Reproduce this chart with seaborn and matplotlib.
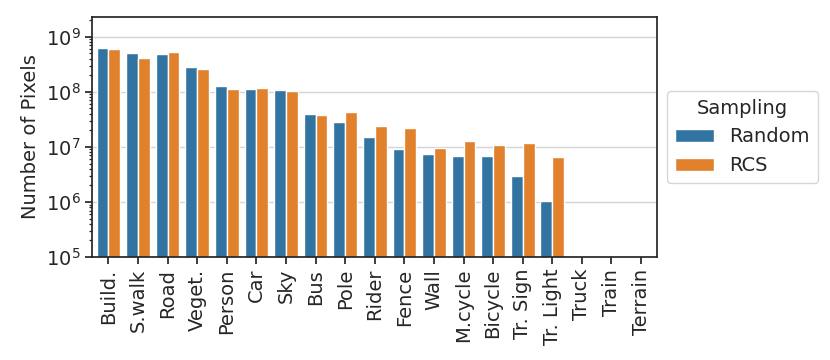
import pandas as pd
import matplotlib
matplotlib.use("Agg")
import matplotlib.pyplot as plt
import seaborn as sns

classes = ["Build.", "S.walk", "Road", "Veget.", "Person", "Car", "Sky", "Bus",
           "Pole", "Rider", "Fence", "Wall", "M.cycle", "Bicycle", "Tr. Sign",
           "Tr. Light", "Truck", "Train", "Terrain"]
random_px = [6.15e8, 5.0e8, 4.9e8, 2.78e8, 1.28e8, 1.13e8, 1.09e8, 3.98e7,
             2.85e7, 1.5e7, 9.2e6, 7.3e6, 6.8e6, 6.8e6, 3.0e6, 1.06e6, 0, 0, 0]
rcs_px = [5.97e8, 4.2e8, 5.27e8, 2.62e8, 1.12e8, 1.2e8, 1.03e8, 3.82e7,
          4.28e7, 2.45e7, 2.25e7, 9.4e6, 1.27e7, 1.09e7, 1.18e7, 6.5e6, 0, 0, 0]

df = pd.DataFrame({
    "Class": classes * 2,
    "Pixels": random_px + rcs_px,
    "Sampling": ["Random"] * len(classes) + ["RCS"] * len(classes),
})

sns.set_style("ticks", {"axes.grid": True, "axes.edgecolor": "#262626"})
fs = 14
plt.rcParams["font.size"] = fs
plt.rcParams["axes.linewidth"] = 1.25

fig, ax = plt.subplots(figsize=(8.3, 3.6), dpi=100)
fig.subplots_adjust(left=0.111, right=0.792, top=0.953, bottom=0.286)

sns.barplot(data=df, x="Class", y="Pixels", hue="Sampling", ax=ax)
ax.set_yscale("log")
ax.set_ylim(1e5, 2.3e9)
ax.set_xlim(-0.55, len(classes) - 0.45)
ax.grid(axis="x", visible=False)
ax.grid(axis="y", which="major", color="#d4d4d4", linewidth=1.0)
ax.grid(axis="y", which="minor", visible=False)
ax.set_xlabel("")
ax.set_ylabel("Number of Pixels", fontsize=fs)
ax.tick_params(axis="x", labelrotation=90, labelsize=fs, width=1.25, length=5)
ax.tick_params(axis="y", labelsize=fs, width=1.25, length=5)
ax.tick_params(axis="y", which="minor", length=2.5, width=0.9)

sns.move_legend(ax, "center left", bbox_to_anchor=(1.0, 0.5),
                title="Sampling", fontsize=fs, title_fontsize=fs)

fig.savefig("out.png")
